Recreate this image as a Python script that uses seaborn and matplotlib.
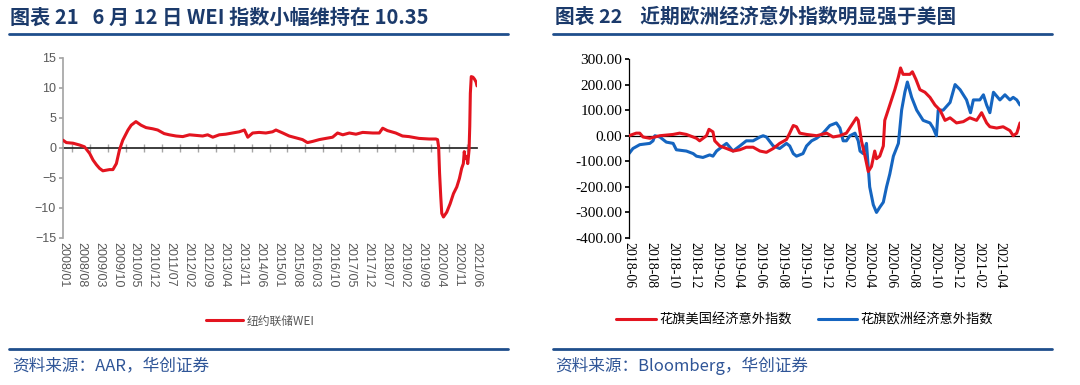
import pandas as pd
import matplotlib
matplotlib.use('Agg')
import matplotlib.pyplot as plt
import matplotlib.dates as mdates
from matplotlib.lines import Line2D
from matplotlib.ticker import FuncFormatter
import seaborn as sns

# ---------------- data ----------------
# NY Fed weekly economic index
wei_dates = ['2008-01-01', '2008-02-10', '2008-04-28', '2008-07-15', '2008-09-12', '2008-11-12',
             '2008-12-22', '2009-02-01', '2009-03-10', '2009-04-18', '2009-07-05', '2009-08-15',
             '2009-09-25', '2009-11-01', '2009-12-10', '2010-02-10', '2010-03-20', '2010-05-15',
             '2010-07-15', '2010-09-12', '2010-12-01', '2011-01-28', '2011-04-15', '2011-06-15',
             '2011-09-03', '2011-11-22', '2012-02-10', '2012-04-28', '2012-07-15', '2012-09-12',
             '2012-11-12', '2013-01-28', '2013-04-15', '2013-07-03', '2013-09-22', '2013-11-22',
             '2014-01-01', '2014-02-28', '2014-05-15', '2014-08-03', '2014-10-22', '2014-12-01',
             '2015-02-20', '2015-05-07', '2015-07-25', '2015-10-12', '2015-12-10', '2016-02-10',
             '2016-04-28', '2016-07-15', '2016-10-03', '2016-12-01', '2017-02-01', '2017-04-20',
             '2017-07-07', '2017-09-25', '2018-01-22', '2018-04-10', '2018-05-20', '2018-07-15',
             '2018-10-22', '2019-01-10', '2019-03-28', '2019-07-25', '2019-11-22', '2020-02-10',
             '2020-03-01', '2020-03-14', '2020-03-25', '2020-04-08', '2020-04-20', '2020-05-10',
             '2020-06-18', '2020-07-28', '2020-09-06', '2020-10-15', '2020-11-15', '2020-12-12',
             '2021-01-01', '2021-01-12', '2021-01-22', '2021-02-10', '2021-02-22', '2021-03-10',
             '2021-03-18', '2021-03-25', '2021-04-05', '2021-04-25', '2021-05-12', '2021-06-01',
             '2021-06-12']
wei_values = [1.3, 0.9, 0.8, 0.5, 0.2, -0.9,
              -2.0, -2.8, -3.4, -3.8, -3.6, -3.6,
              -2.6, -0.3, 1.3, 3.0, 3.8, 4.4,
              3.8, 3.4, 3.2, 3.0, 2.4, 2.2,
              2.0, 1.9, 2.2, 2.1, 2.0, 2.2,
              1.8, 2.2, 2.3, 2.5, 2.7, 3.0,
              1.8, 2.5, 2.6, 2.5, 2.7, 3.0,
              2.5, 2.0, 1.7, 1.4, 0.9, 1.1,
              1.4, 1.6, 1.8, 2.5, 2.2, 2.5,
              2.3, 2.6, 2.5, 2.5, 3.3, 2.9,
              2.5, 2.0, 1.9, 1.6, 1.5, 1.5,
              1.4, 0.2, -4.2, -8.1, -10.9, -11.5,
              -10.7, -9.3, -7.6, -6.5, -5.1, -3.4,
              -2.6, -0.6, -1.7, -1.4, -2.6, -0.3,
              3.6, 9.1, 11.9, 11.8, 11.5, 11.0,
              10.35]
wei_ticks = ['2008/01', '2008/08', '2009/03', '2009/10', '2010/05', '2010/12', '2011/07', '2012/02',
             '2012/09', '2013/04', '2013/11', '2014/06', '2015/01', '2015/08', '2016/03', '2016/10',
             '2017/05', '2017/12', '2018/07', '2019/02', '2019/09', '2020/04', '2020/11', '2021/06']
wei_label = '纽约联储WEI'

# Citi economic surprise indices
us_dates = ['2018-06-01', '2018-06-21', '2018-07-01', '2018-07-10', '2018-07-29', '2018-08-26',
            '2018-10-02', '2018-10-20', '2018-11-08', '2018-12-06', '2018-12-15', '2019-01-03',
            '2019-01-10', '2019-01-21', '2019-01-26', '2019-02-09', '2019-02-28', '2019-03-18',
            '2019-04-06', '2019-04-24', '2019-05-13', '2019-06-01', '2019-06-19', '2019-07-08',
            '2019-07-26', '2019-08-14', '2019-08-23', '2019-09-02', '2019-09-11', '2019-09-20',
            '2019-10-09', '2019-11-06', '2019-12-04', '2019-12-22', '2020-01-10', '2020-01-28',
            '2020-02-11', '2020-02-25', '2020-03-01', '2020-03-10', '2020-03-20', '2020-03-29',
            '2020-04-07', '2020-04-16', '2020-04-21', '2020-04-30', '2020-05-10', '2020-05-14',
            '2020-05-28', '2020-06-11', '2020-06-21', '2020-06-27', '2020-07-04', '2020-07-23',
            '2020-07-30', '2020-08-09', '2020-08-20', '2020-09-03', '2020-09-17', '2020-10-01',
            '2020-10-15', '2020-10-29', '2020-11-12', '2020-11-30', '2020-12-19', '2021-01-06',
            '2021-01-25', '2021-02-08', '2021-02-22', '2021-03-03', '2021-03-22', '2021-04-09',
            '2021-04-28', '2021-05-07', '2021-05-17', '2021-05-26']
us_values = [0, 10, 10, -5, -10, 0,
             5, 10, 5, -10, -20, 0,
             25, 15, -20, -40, -50, -60,
             -55, -45, -45, -60, -65, -50,
             -30, -15, 10, 40, 35, 10,
             5, 0, 10, -5, 0, 10,
             40, 70, 60, -20, -80, -140,
             -120, -60, -90, -80, -40, 60,
             120, 180, 230, 265, 240, 240,
             250, 220, 180, 170, 150, 120,
             100, 60, 70, 50, 55, 70,
             60, 90, 50, 35, 30, 35,
             20, 0, 10, 50]
eu_dates = ['2018-06-01', '2018-06-12', '2018-07-01', '2018-07-29', '2018-08-07', '2018-08-12',
            '2018-08-26', '2018-09-13', '2018-10-02', '2018-10-11', '2018-11-08', '2018-11-27',
            '2018-12-06', '2018-12-24', '2019-01-12', '2019-01-21', '2019-01-31', '2019-02-18',
            '2019-02-28', '2019-03-18', '2019-04-06', '2019-04-24', '2019-05-13', '2019-06-01',
            '2019-06-10', '2019-06-19', '2019-07-08', '2019-07-26', '2019-08-14', '2019-08-23',
            '2019-09-02', '2019-09-11', '2019-09-29', '2019-10-09', '2019-10-23', '2019-11-06',
            '2019-11-24', '2019-12-13', '2019-12-31', '2020-01-10', '2020-01-19', '2020-01-28',
            '2020-02-07', '2020-02-21', '2020-03-01', '2020-03-06', '2020-03-15', '2020-03-24',
            '2020-04-02', '2020-04-12', '2020-04-21', '2020-04-30', '2020-05-10', '2020-05-19',
            '2020-05-28', '2020-06-07', '2020-06-21', '2020-06-30', '2020-07-09', '2020-07-16',
            '2020-07-28', '2020-08-11', '2020-08-29', '2020-09-17', '2020-09-26', '2020-10-05',
            '2020-10-10', '2020-10-24', '2020-11-12', '2020-11-26', '2020-12-10', '2020-12-28',
            '2021-01-08', '2021-01-16', '2021-02-03', '2021-02-13', '2021-02-22', '2021-03-03',
            '2021-03-13', '2021-03-31', '2021-04-14', '2021-04-28', '2021-05-07', '2021-05-17',
            '2021-05-26']
eu_values = [-70, -50, -35, -30, -20, 0,
             -5, -25, -30, -55, -60, -70,
             -80, -85, -75, -80, -60, -40,
             -30, -60, -40, -20, -20, -5,
             0, -5, -40, -50, -30, -40,
             -70, -80, -70, -40, -20, -10,
             10, 40, 50, 30, -20, -20,
             0, 10, -20, -60, -70, -30,
             -200, -270, -300, -280, -260, -200,
             -150, -80, -30, 100, 170, 210,
             150, 100, 60, 50, 30, 0,
             100, 100, 130, 200, 180, 140,
             90, 140, 140, 160, 120, 90,
             170, 140, 160, 140, 150, 140,
             120]
citi_ticks = ['2018-06', '2018-08', '2018-10', '2018-12', '2019-02', '2019-04', '2019-06', '2019-08',
              '2019-10', '2019-12', '2020-02', '2020-04', '2020-06', '2020-08', '2020-10', '2020-12',
              '2021-02', '2021-04']
us_label = '花旗美国经济意外指数'
eu_label = '花旗欧洲经济意外指数'

RED = '#E3141F'
BLUE = '#1565C0'
GRAY = '#A6A6A6'
TITLE_C = '#1B3A6B'
RULE_C = '#1F4E8C'
SRC_C = '#2F5597'

# ---------------- figure ----------------
sns.set_theme(style='white')
plt.rcParams['font.family'] = ['Noto Sans CJK SC', 'DejaVu Sans']

fig = plt.figure(figsize=(10.8, 3.85), dpi=100)

# left panel: WEI
ax1 = fig.add_axes([63 / 1080, 1 - 238 / 385, 414 / 1080, 180 / 385])
sns.lineplot(x=pd.to_datetime(wei_dates), y=wei_values, ax=ax1, color=RED,
             linewidth=2.2, label=wei_label, zorder=3)
ax1.set_xlim(pd.Timestamp('2008-01-01'), pd.Timestamp('2021-06-12'))
ax1.set_ylim(-15, 15)
ax1.set_yticks(range(-15, 16, 5))
tick_dt = pd.to_datetime([t.replace('/', '-') + '-01' for t in wei_ticks])
ax1.set_xticks(tick_dt)
ax1.set_xticklabels(wei_ticks, rotation=-90, family='Liberation Sans', fontsize=9, color='#595959')
for lab in ax1.get_yticklabels():
    lab.set_family('Liberation Sans')
    lab.set_fontsize(9)
    lab.set_color('#595959')
ax1.tick_params(axis='y', direction='out', length=3, color=GRAY, pad=2, left=True)
ax1.tick_params(axis='x', length=0, pad=3)
for s in ['top', 'right', 'bottom']:
    ax1.spines[s].set_visible(False)
ax1.spines['left'].set_color(GRAY)
ax1.set_xlabel('')
ax1.set_ylabel('')

# zero axis with tick marks between the category labels
zero_ax = ax1.secondary_xaxis(0.5)
mid_dt = tick_dt[:-1] + (tick_dt[1:] - tick_dt[:-1]) / 2
zero_ax.set_xticks(mdates.date2num(mid_dt))
zero_ax.set_xticklabels([])
zero_ax.tick_params(axis='x', direction='out', length=3, color=GRAY, width=1, bottom=True)
zero_ax.spines['bottom'].set_color(GRAY)
zero_ax.spines['bottom'].set_linewidth(1.2)
zero_ax.set_zorder(1)

h1, l1 = ax1.get_legend_handles_labels()
ax1.legend(h1, l1, loc='center', bbox_to_anchor=(0.241, 0.166), bbox_transform=fig.transFigure,
           frameon=False, handlelength=3.2, handletextpad=0.3,
           prop={'family': ['Noto Sans CJK SC'], 'size': 8.5}, labelcolor='#595959')

# right panel: Citi surprise indices
ax2 = fig.add_axes([629 / 1080, 1 - 238 / 385, 391 / 1080, 179 / 385])
ax2.axhline(0, color='black', lw=0.9, zorder=1)
sns.lineplot(x=pd.to_datetime(us_dates), y=us_values, ax=ax2, color=RED,
             linewidth=2.2, label=us_label, zorder=3)
sns.lineplot(x=pd.to_datetime(eu_dates), y=eu_values, ax=ax2, color=BLUE,
             linewidth=2.2, label=eu_label, zorder=2)
ax2.set_xlim(pd.Timestamp('2018-06-01'), pd.Timestamp('2021-05-26'))
ax2.set_ylim(-400, 300)
ax2.set_yticks(range(-400, 301, 100))
ax2.yaxis.set_major_formatter(FuncFormatter(lambda v, p: f'{v:.2f}'))
ax2.set_xticks(pd.to_datetime([t + '-01' for t in citi_ticks]))
ax2.set_xticklabels(citi_ticks, rotation=-90, family='Liberation Serif', fontsize=10, color='black')
for lab in ax2.get_yticklabels():
    lab.set_family('Liberation Serif')
    lab.set_fontsize(11)
    lab.set_color('black')
ax2.tick_params(axis='y', direction='out', length=3, color='black', pad=2, left=True)
ax2.tick_params(axis='x', length=0, pad=3)
for s in ['top', 'right', 'bottom']:
    ax2.spines[s].set_visible(False)
ax2.spines['left'].set_color('black')
ax2.spines['left'].set_linewidth(0.9)
ax2.set_xlabel('')
ax2.set_ylabel('')
h2, l2 = ax2.get_legend_handles_labels()
ax2.legend(h2, l2, loc='center', bbox_to_anchor=(0.745, 0.169), bbox_transform=fig.transFigure,
           frameon=False, ncol=2, handlelength=3.0, handletextpad=0.25, columnspacing=2.0,
           prop={'family': ['Noto Sans CJK SC'], 'size': 9.5}, labelcolor='black')

# titles, rules and sources
fig.text(10 / 1080, 1 - 17 / 385, '图表 21   6 月 12 日 WEI 指数小幅维持在 10.35',
         fontsize=14.5, fontweight='bold', color=TITLE_C, va='center', ha='left')
fig.text(555 / 1080, 1 - 17 / 385, '图表 22    近期欧洲经济意外指数明显强于美国',
         fontsize=14.2, fontweight='bold', color=TITLE_C, va='center', ha='left')
for x0, x1 in [(9, 508), (553, 1052)]:
    for y in [34, 349]:
        fig.add_artist(Line2D([x0 / 1080, x1 / 1080], [1 - y / 385, 1 - y / 385],
                              transform=fig.transFigure, color=RULE_C, lw=2))
fig.text(12 / 1080, 1 - 366 / 385, '资料来源：AAR，华创证券',
         fontsize=12, color=SRC_C, va='center', ha='left', style='italic')
fig.text(555 / 1080, 1 - 366 / 385, '资料来源：Bloomberg，华创证券',
         fontsize=12, color=SRC_C, va='center', ha='left', style='italic')

fig.savefig('out.png', dpi=100)
